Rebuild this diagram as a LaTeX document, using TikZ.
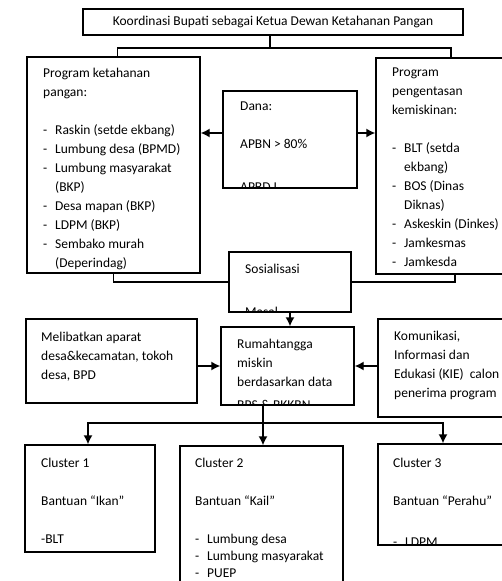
\documentclass[tikz,border=0pt]{standalone}
\usepackage{fontspec}
\setmainfont{Carlito}
\usetikzlibrary{arrows.meta}

\newcommand{\dashitem}{\makebox[12pt][l]{-}}
\newcommand{\dashcont}{\hspace*{12pt}}

\begin{document}
\begin{tikzpicture}[x=1pt, y=-1pt, font={\fontsize{13.5}{19}\selectfont}]
    \tikzstyle{box_style} = [draw, line width=1.4pt, rectangle, inner sep=0pt]
    \tikzstyle{text_style} = [anchor=north west, inner sep=0pt, align=left]
    \tikzstyle{line_style} = [black, line width=1.4pt]
    \tikzstyle{arrow_style} = [->, black, line width=1.4pt, >={Latex[length=9pt,width=9pt]}]

    \useasboundingbox[fill=white] (0,0) rectangle (502,581);

    % top row
    \node[box_style, minimum width=380, minimum height=26] (koordinasi) at (273,22) {Koordinasi Bupati sebagai Ketua Dewan Ketahanan Pangan};

    \node[box_style, minimum width=173, minimum height=216] (pangan) at (113.5,165) {};
    \node[text_style] (pangan_txt) at (43,67.5) {Program ketahanan\\pangan:\\[19pt]
        \dashitem Raskin (setde ekbang)\\
        \dashitem Lumbung desa (BPMD)\\
        \dashitem Lumbung masyarakat\\
        \dashcont (BKP)\\
        \dashitem Desa mapan (BKP)\\
        \dashitem LDPM (BKP)\\
        \dashitem Sembako murah\\
        \dashcont (Deperindag)};

    \node[box_style, minimum width=150, minimum height=216] (miskin) at (451,166) {};
    \node[text_style] (miskin_txt) at (392,67.5) {Program\\pengentasan\\kemiskinan:\\[19pt]
        \dashitem BLT (setda\\
        \dashcont ekbang)\\
        \dashitem BOS (Dinas\\
        \dashcont Diknas)\\
        \dashitem Askeskin (Dinkes)\\
        \dashitem Jamkesmas\\
        \dashitem Jamkesda};

    \node[box_style, minimum width=134, minimum height=97] (dana) at (290,139.5) {};
    \begin{scope}
        \clip (dana.north west) rectangle (dana.south east);
        \node[text_style] (dana_txt) at (240,101.5) {Dana:\\[19pt]APBN > 80\%\\[24pt]APBD I};
    \end{scope}

    \node[box_style, minimum width=122, minimum height=60] (sosialisasi) at (290,282) {};
    \begin{scope}
        \clip (sosialisasi.north west) rectangle (sosialisasi.south east);
        \node[text_style] (sosialisasi_txt) at (245,263.5) {Sosialisasi\\[24pt]Masal};
    \end{scope}

    % middle row
    \node[box_style, minimum width=171, minimum height=84] (melibatkan) at (111.5,361) {};
    \node[text_style] (melibatkan_txt) at (41,331.5) {Melibatkan aparat\\desa\&kecamatan, tokoh\\desa, BPD};

    \node[box_style, minimum width=133, minimum height=78] (rumahtangga) at (287.5,366) {};
    \begin{scope}
        \clip (rumahtangga.north west) rectangle (rumahtangga.south east);
        \node[text_style] (rumahtangga_txt) at (237,338.5) {Rumahtangga\\miskin\\berdasarkan data\\[4pt]BPS \& BKKBN};
    \end{scope}

    \node[box_style, minimum width=152, minimum height=98] (komunikasi) at (454,368) {};
    \node[text_style] (komunikasi_txt) at (394,330.5) {Komunikasi,\\Informasi dan\\Edukasi (KIE)\ \ calon\\penerima program};

    % clusters
    \node[box_style, minimum width=130, minimum height=107] (cluster1) at (90,498.5) {};
    \node[text_style] (cluster1_txt) at (41,457.5) {Cluster 1\\[19pt]Bantuan “Ikan”\\[19pt]-BLT};

    \node[box_style, minimum width=163, minimum height=154] (cluster2) at (261.5,523) {};
    \node[text_style] (cluster2_txt) at (195,457.5) {Cluster 2\\[19pt]Bantuan “Kail”\\[19pt]
        \dashitem Lumbung desa\\[-2pt]
        \dashitem Lumbung masyarakat\\[-2pt]
        \dashitem PUEP};

    \node[box_style, minimum width=130, minimum height=101] (cluster3) at (443,494.5) {};
    \begin{scope}
        \clip (cluster3.north west) rectangle (cluster3.south east);
        \node[text_style] (cluster3_txt) at (393,457.5) {Cluster 3\\[19pt]Bantuan “Perahu”\\[22pt]\dashitem LDPM};
    \end{scope}

    % connectors
    \coordinate (bar) at (270,48);
    \draw[line_style] (koordinasi.south -| bar) -- (bar);
    \draw[line_style] ([xshift=4pt]pangan.north) |- (bar) -| (miskin.north);

    \draw[arrow_style] ([yshift=6.5pt]dana.west) -- ([yshift=6.5pt]dana.west -| pangan.east);
    \draw[arrow_style] ([yshift=6.5pt]dana.east) -- ([yshift=6.5pt]dana.east -| miskin.west);

    \draw[line_style] (pangan.south) |- (sosialisasi.west);
    \draw[line_style] ([xshift=4pt]miskin.south) |- (sosialisasi.east);
    \draw[arrow_style] (sosialisasi.south) -- (sosialisasi.south |- rumahtangga.north);

    \draw[arrow_style] (melibatkan.east |- rumahtangga.west) -- (rumahtangga.west);
    \draw[arrow_style] (komunikasi.west |- rumahtangga.east) -- (rumahtangga.east);

    \coordinate (split) at (263,423);
    \draw[line_style] (split |- rumahtangga.south) -- (split);
    \draw[arrow_style] (split) -- (cluster2.north -| split);
    \draw[arrow_style] (split) -| ([xshift=-2pt]cluster1.north);
    \draw[arrow_style] (split) -| (cluster3.north);
\end{tikzpicture}
\end{document}
